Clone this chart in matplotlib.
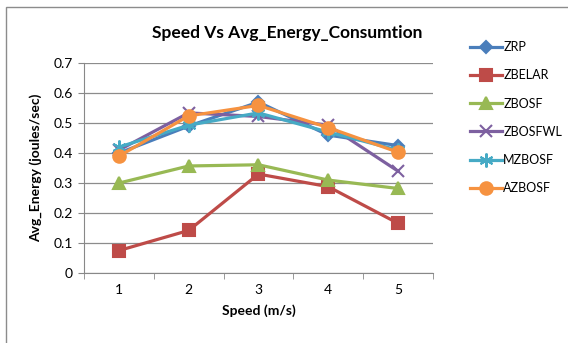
import matplotlib.pyplot as plt
from matplotlib.patches import Rectangle

# data
speeds = [1, 2, 3, 4, 5]
zrp = [0.40, 0.49, 0.57, 0.46, 0.425]
zbelar = [0.075, 0.142, 0.33, 0.288, 0.166]
zbosf = [0.30, 0.357, 0.361, 0.31, 0.282]
zbosfwl = [0.41, 0.534, 0.522, 0.493, 0.34]
mzbosf = [0.42, 0.493, 0.534, 0.47, 0.41]
azbosf = [0.39, 0.524, 0.559, 0.485, 0.403]

series = [
    ("ZRP", zrp, "#4A7EBB", "D", 6),
    ("ZBELAR", zbelar, "#BE4B48", "s", 8),
    ("ZBOSF", zbosf, "#98B954", "^", 8),
    ("ZBOSFWL", zbosfwl, "#7D60A0", "x", 9),
    ("MZBOSF", mzbosf, "#46AAC5", (6, 2, 0), 10),
    ("AZBOSF", azbosf, "#F69240", "o", 9),
]

plt.rcParams["font.family"] = ["Lato", "DejaVu Sans"]

fig = plt.figure(figsize=(5.68, 3.43), dpi=100)
ax = fig.add_axes([0.148, 0.204, 0.614, 0.612])

for name, vals, color, marker, ms in series:
    ax.plot(speeds, vals, color=color, lw=2.3, marker=marker, ms=ms,
            mew=1.5, mec=color, mfc=color, label=name)

ax.set_xlim(0.5, 5.5)
ax.set_ylim(0, 0.7)
ax.set_yticks([i / 10 for i in range(8)])
ax.set_yticklabels(["0"] + ["%.1f" % (i / 10) for i in range(1, 8)])
ax.set_xticks(speeds)
ax.set_xticks([0.5 + i for i in range(6)], minor=True)
ax.tick_params(axis="x", which="major", length=0, pad=8, labelsize=10)
ax.tick_params(axis="x", which="minor", length=4, color="#888888")
ax.tick_params(axis="y", length=4, color="#888888", labelsize=10, pad=4)
ax.grid(axis="y", color="#8c8c8c", lw=0.9)
ax.set_axisbelow(True)
for s in ["top", "right"]:
    ax.spines[s].set_visible(False)
for s in ["left", "bottom"]:
    ax.spines[s].set_color("#888888")

ax.set_xlabel("Speed (m/s)", fontweight="bold", fontsize=10, labelpad=6)
ax.set_ylabel("Avg_Energy (joules/sec)", fontweight="bold", fontsize=10, labelpad=8)
fig.text(0.505, 0.905, "Speed Vs Avg_Energy_Consumtion", fontweight="bold",
         fontsize=12.5, ha="center", va="center")

fig.legend(loc="upper left", bbox_to_anchor=(0.818, 0.895), frameon=False,
           fontsize=9, handlelength=2.6, labelspacing=1.3, handletextpad=0.1,
           borderaxespad=0)

fig.patches.append(Rectangle((0.0106, -0.05), 1.1, 1.03, transform=fig.transFigure,
                             fill=False, edgecolor="#8c8c8c", lw=1))

fig.savefig("out.png", dpi=100)
